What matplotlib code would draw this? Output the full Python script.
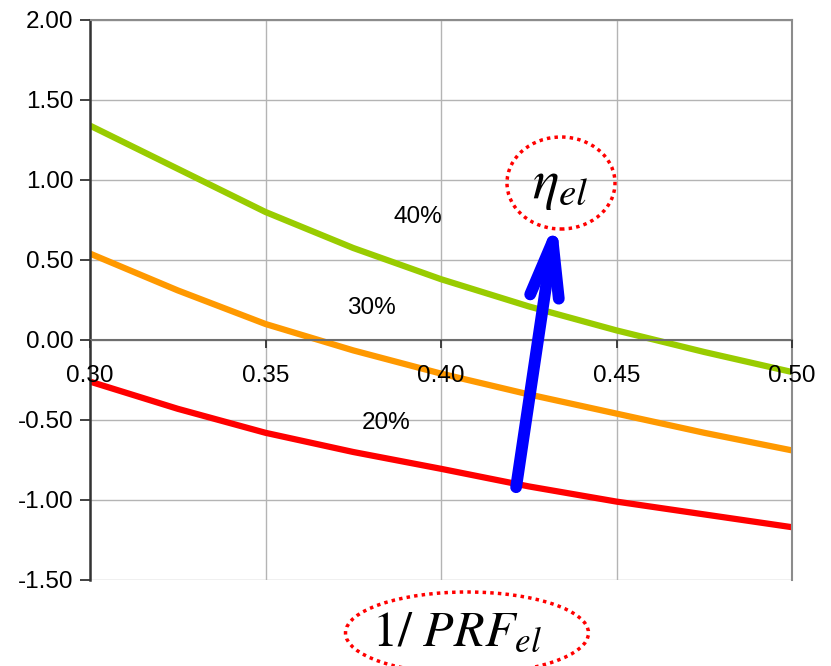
import matplotlib
matplotlib.use("Agg")
import matplotlib.pyplot as plt
from matplotlib.patches import Ellipse, FancyArrowPatch

# data
x = [0.300, 0.325, 0.350, 0.375, 0.400, 0.425, 0.450, 0.475, 0.500]
eta_40 = [1.34, 1.07, 0.80, 0.575, 0.38, 0.21, 0.06, -0.075, -0.20]
eta_30 = [0.54, 0.31, 0.10, -0.065, -0.21, -0.34, -0.46, -0.58, -0.69]
eta_20 = [-0.26, -0.43, -0.58, -0.70, -0.805, -0.915, -1.01, -1.09, -1.17]
series_labels = ["40%", "30%", "20%"]
label_pos = [(0.3935, 0.77), (0.3802, 0.20), (0.3843, -0.52)]
arrow_tail = (0.4214, -0.92)
arrow_head = (0.4328, 0.76)

xticks = [0.30, 0.35, 0.40, 0.45, 0.50]
yticks = [-1.5, -1.0, -0.5, 0.0, 0.5, 1.0, 1.5, 2.0]

plt.rcParams['font.family'] = ['Liberation Sans', 'DejaVu Sans']
plt.rcParams['mathtext.fontset'] = 'stix'

W, H = 831, 666
fig = plt.figure(figsize=(W / 100, H / 100), dpi=100)
ax = fig.add_axes([90 / W, 1 - 580 / H, 702 / W, 560 / H])

# grid drawn by hand so tick labels can sit on top of the curves
for yv in yticks:
    ax.axhline(yv, color='#b4b4b4', lw=1.0, zorder=0.5)
for xv in xticks:
    ax.axvline(xv, color='#b4b4b4', lw=1.0, zorder=0.5)

ax.plot(x, eta_40, color='#99cc00', lw=4.5, solid_capstyle='butt', solid_joinstyle='round')
ax.plot(x, eta_30, color='#ff9900', lw=4.5, solid_capstyle='butt', solid_joinstyle='round')
ax.plot(x, eta_20, color='#ff0000', lw=4.5, solid_capstyle='butt', solid_joinstyle='round')

ax.set_xlim(0.30, 0.50)
ax.set_ylim(-1.5, 2.0)
ax.set_xticks(xticks)
ax.set_yticks(yticks)
ax.set_xticklabels([f"{v:.2f}" for v in xticks])
ax.set_yticklabels([f"{v:.2f}" for v in yticks])
ax.set_axisbelow(False)

# Excel-style: category axis crossing at zero
ax.spines['bottom'].set_position(('data', 0))
ax.spines['bottom'].set_color('#6e6e6e')
ax.spines['bottom'].set_linewidth(1.5)
ax.spines['left'].set_color('#333333')
ax.spines['left'].set_linewidth(1.8)
for s in ['top', 'right']:
    ax.spines[s].set_color('#8c8c8c')
    ax.spines[s].set_linewidth(1.5)

ax.tick_params(axis='y', direction='out', length=7, width=1.3, color='#333333',
               labelsize=17.5, pad=5)
ax.tick_params(axis='x', direction='out', length=6, width=1.3, color='#333333',
               labelsize=17.5, pad=12)

for lab, (lx, ly) in zip(series_labels, label_pos):
    ax.text(lx, ly, lab, fontsize=17.5, ha='center', va='center')

arrow = FancyArrowPatch(arrow_tail, arrow_head,
                        arrowstyle='->,head_length=0.5,head_width=0.13',
                        mutation_scale=80, lw=8.5, color='#0000ff',
                        shrinkA=0, shrinkB=0, capstyle='round', joinstyle='round', zorder=4)
ax.add_patch(arrow)

# annotation ellipses (figure pixel positions)
fig.patches.append(Ellipse((561 / W, 1 - 183 / H), 108 / W, 92 / H, transform=fig.transFigure,
                           fill=False, ec='#ff0000', ls=(0, (1, 1.2)), lw=2.5, figure=fig))
fig.patches.append(Ellipse((467 / W, 1 - 633 / H), 243 / W, 82 / H, transform=fig.transFigure,
                           fill=False, ec='#ff0000', ls=(0, (1, 1.2)), lw=2.5, figure=fig))

fig.text(560 / W, 1 - 198 / H, r'$\eta_{el}$', fontsize=40, ha='center', va='baseline')
fig.text(457 / W, 1 - 645 / H, r'$1/\ PRF_{el}$', fontsize=36, ha='center', va='baseline')

fig.savefig('out.png', dpi=100)
